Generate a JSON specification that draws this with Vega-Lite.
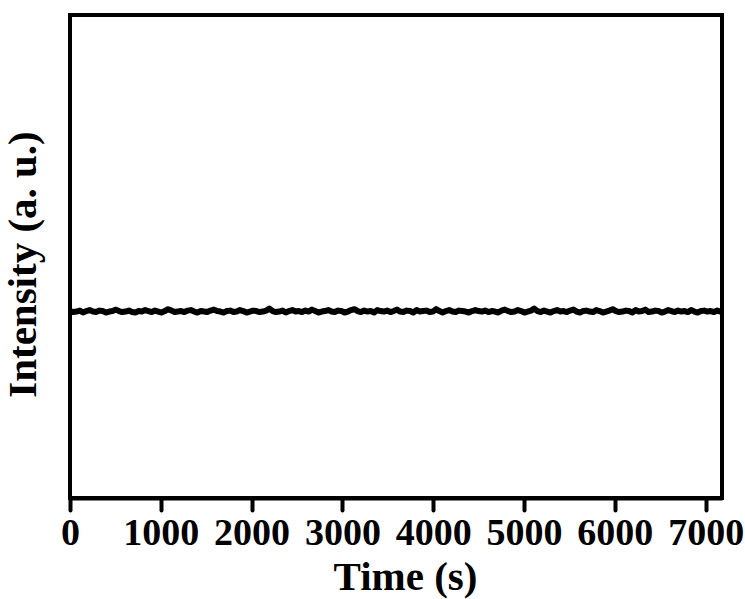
{
"$schema": "https://vega.github.io/schema/vega-lite/v6.json",
"width": 652,
"height": 483,
"autosize": {"type": "none"},
"padding": {"left": 70, "top": 15, "right": 23, "bottom": 101},
"background": "white",
"config": {"view": {"stroke": "black", "strokeWidth": 4}, "font": "Liberation Serif"},
"data": {"values": [
{"t":0,"v":0.387},{"t":36,"v":0.385},{"t":72,"v":0.386},{"t":108,"v":0.388},{"t":144,"v":0.384},{"t":180,"v":0.387},{"t":216,"v":0.389},{"t":252,"v":0.386},{"t":288,"v":0.385},{"t":324,"v":0.388},{"t":360,"v":0.387},{"t":396,"v":0.384},{"t":432,"v":0.386},{"t":468,"v":0.387},{"t":504,"v":0.390},{"t":540,"v":0.387},{"t":576,"v":0.385},{"t":612,"v":0.386},{"t":648,"v":0.388},{"t":684,"v":0.385},
{"t":720,"v":0.384},{"t":756,"v":0.387},{"t":792,"v":0.386},{"t":828,"v":0.389},{"t":864,"v":0.387},{"t":900,"v":0.385},{"t":936,"v":0.388},{"t":972,"v":0.386},{"t":1008,"v":0.384},{"t":1044,"v":0.387},{"t":1080,"v":0.391},{"t":1116,"v":0.388},{"t":1152,"v":0.385},{"t":1188,"v":0.386},{"t":1224,"v":0.387},{"t":1260,"v":0.385},{"t":1296,"v":0.388},{"t":1332,"v":0.389},{"t":1368,"v":0.386},{"t":1404,"v":0.384},
{"t":1440,"v":0.387},{"t":1476,"v":0.386},{"t":1512,"v":0.385},{"t":1548,"v":0.388},{"t":1584,"v":0.390},{"t":1620,"v":0.387},{"t":1656,"v":0.386},{"t":1692,"v":0.384},{"t":1728,"v":0.387},{"t":1764,"v":0.388},{"t":1800,"v":0.385},{"t":1836,"v":0.386},{"t":1872,"v":0.389},{"t":1908,"v":0.387},{"t":1944,"v":0.384},{"t":1980,"v":0.386},{"t":2016,"v":0.388},{"t":2052,"v":0.387},{"t":2088,"v":0.385},{"t":2124,"v":0.386},
{"t":2160,"v":0.388},{"t":2196,"v":0.392},{"t":2232,"v":0.387},{"t":2268,"v":0.385},{"t":2304,"v":0.386},{"t":2340,"v":0.388},{"t":2376,"v":0.384},{"t":2412,"v":0.387},{"t":2448,"v":0.389},{"t":2484,"v":0.386},{"t":2520,"v":0.387},{"t":2556,"v":0.385},{"t":2592,"v":0.388},{"t":2628,"v":0.386},{"t":2664,"v":0.390},{"t":2700,"v":0.387},{"t":2736,"v":0.384},{"t":2772,"v":0.386},{"t":2808,"v":0.387},{"t":2844,"v":0.389},
{"t":2880,"v":0.386},{"t":2916,"v":0.385},{"t":2952,"v":0.388},{"t":2988,"v":0.387},{"t":3024,"v":0.384},{"t":3060,"v":0.386},{"t":3096,"v":0.389},{"t":3132,"v":0.391},{"t":3168,"v":0.387},{"t":3204,"v":0.385},{"t":3240,"v":0.388},{"t":3276,"v":0.386},{"t":3312,"v":0.387},{"t":3348,"v":0.384},{"t":3384,"v":0.389},{"t":3420,"v":0.387},{"t":3456,"v":0.386},{"t":3492,"v":0.388},{"t":3528,"v":0.385},{"t":3564,"v":0.387},
{"t":3600,"v":0.390},{"t":3636,"v":0.386},{"t":3672,"v":0.385},{"t":3708,"v":0.388},{"t":3744,"v":0.387},{"t":3780,"v":0.384},{"t":3816,"v":0.389},{"t":3852,"v":0.386},{"t":3888,"v":0.387},{"t":3924,"v":0.388},{"t":3960,"v":0.385},{"t":3996,"v":0.386},{"t":4032,"v":0.391},{"t":4068,"v":0.387},{"t":4104,"v":0.384},{"t":4140,"v":0.387},{"t":4176,"v":0.389},{"t":4212,"v":0.386},{"t":4248,"v":0.385},{"t":4284,"v":0.388},
{"t":4320,"v":0.387},{"t":4356,"v":0.386},{"t":4392,"v":0.384},{"t":4428,"v":0.387},{"t":4464,"v":0.389},{"t":4500,"v":0.387},{"t":4536,"v":0.386},{"t":4572,"v":0.388},{"t":4608,"v":0.385},{"t":4644,"v":0.387},{"t":4680,"v":0.386},{"t":4716,"v":0.384},{"t":4752,"v":0.388},{"t":4788,"v":0.390},{"t":4824,"v":0.387},{"t":4860,"v":0.385},{"t":4896,"v":0.386},{"t":4932,"v":0.389},{"t":4968,"v":0.387},{"t":5004,"v":0.384},
{"t":5040,"v":0.386},{"t":5076,"v":0.388},{"t":5112,"v":0.392},{"t":5148,"v":0.387},{"t":5184,"v":0.385},{"t":5220,"v":0.388},{"t":5256,"v":0.386},{"t":5292,"v":0.384},{"t":5328,"v":0.387},{"t":5364,"v":0.389},{"t":5400,"v":0.386},{"t":5436,"v":0.387},{"t":5472,"v":0.385},{"t":5508,"v":0.388},{"t":5544,"v":0.390},{"t":5580,"v":0.386},{"t":5616,"v":0.384},{"t":5652,"v":0.387},{"t":5688,"v":0.388},{"t":5724,"v":0.386},
{"t":5760,"v":0.385},{"t":5796,"v":0.389},{"t":5832,"v":0.387},{"t":5868,"v":0.384},{"t":5904,"v":0.386},{"t":5940,"v":0.388},{"t":5976,"v":0.391},{"t":6012,"v":0.387},{"t":6048,"v":0.385},{"t":6084,"v":0.386},{"t":6120,"v":0.388},{"t":6156,"v":0.387},{"t":6192,"v":0.384},{"t":6228,"v":0.389},{"t":6264,"v":0.386},{"t":6300,"v":0.387},{"t":6336,"v":0.390},{"t":6372,"v":0.385},{"t":6408,"v":0.386},{"t":6444,"v":0.388},
{"t":6480,"v":0.387},{"t":6516,"v":0.384},{"t":6552,"v":0.386},{"t":6588,"v":0.389},{"t":6624,"v":0.387},{"t":6660,"v":0.385},{"t":6696,"v":0.388},{"t":6732,"v":0.386},{"t":6768,"v":0.387},{"t":6804,"v":0.385},{"t":6840,"v":0.389},{"t":6876,"v":0.386},{"t":6912,"v":0.384},{"t":6948,"v":0.387},{"t":6984,"v":0.388},{"t":7020,"v":0.386},{"t":7056,"v":0.387},{"t":7092,"v":0.385},{"t":7128,"v":0.388},{"t":7164,"v":0.386},
{"t":7180,"v":0.386}
]},
"mark": {"type": "line", "color": "black", "strokeWidth": 6, "strokeJoin": "round", "clip": true},
"encoding": {
"x": {"field": "t", "type": "quantitative",
"scale": {"domain": [0, 7180], "nice": false, "zero": false},
"axis": {"title": "Time (s)", "values": [0,1000,2000,3000,4000,5000,6000,7000], "format": "d", "grid": false,
"domainColor": "black", "domainWidth": 4, "tickColor": "black", "tickWidth": 4, "tickSize": 12, "tickCap": "round",
"labelFont": "Liberation Serif", "labelFontWeight": "bold", "labelFontSize": 38, "labelColor": "black", "labelPadding": 4,
"labelOverlap": false, "labelBound": false, "labelFlush": false,
"titleFont": "Liberation Serif", "titleFontWeight": "bold", "titleFontSize": 41, "titleColor": "black", "titlePadding": 5, "titleX": 335}},
"y": {"field": "v", "type": "quantitative",
"scale": {"domain": [0, 1], "nice": false},
"axis": {"title": "Intensity (a. u.)", "labels": false, "ticks": false, "grid": false, "domain": false,
"titleFont": "Liberation Serif", "titleFontWeight": "bold", "titleFontSize": 41, "titleColor": "black", "titlePadding": 26, "titleY": 249}}
}
}
